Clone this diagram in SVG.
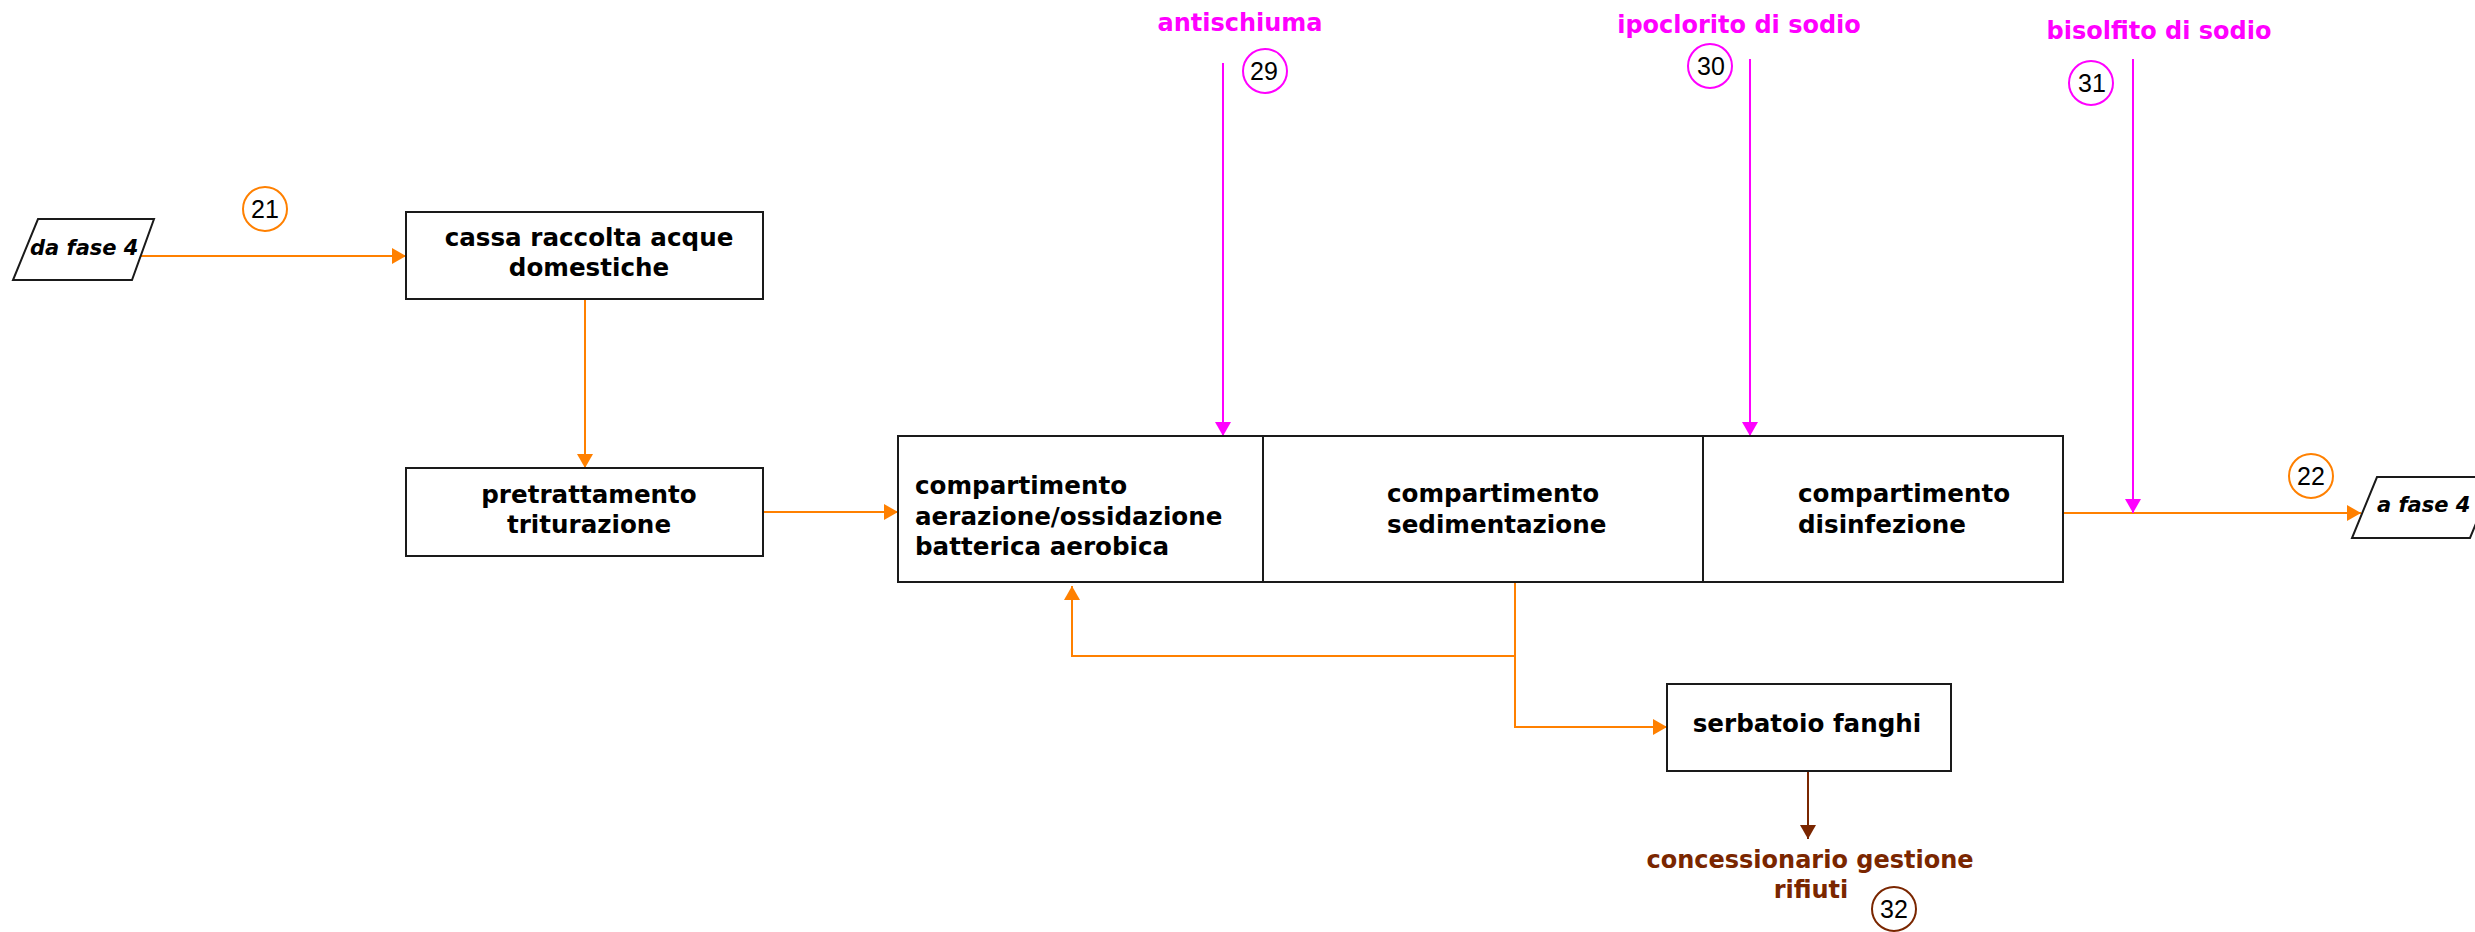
<svg xmlns="http://www.w3.org/2000/svg" width="2475" height="932" viewBox="0 0 2475 932">
  <style>
    .box { fill: #ffffff; stroke: #1a1a1a; stroke-width: 2; }
    .lbl { font-family: "DejaVu Sans", Verdana, sans-serif; font-weight: bold; font-size: 24.6px; fill: #000000; }
    .io { font-family: "DejaVu Sans", Verdana, sans-serif; font-weight: bold; font-style: italic; font-size: 21px; fill: #000000; }
    .chem { font-family: "DejaVu Sans", Verdana, sans-serif; font-weight: bold; font-size: 24px; fill: #ff00ff; }
    .waste { font-family: "DejaVu Sans", Verdana, sans-serif; font-weight: bold; font-size: 24px; fill: #7a2600; }
    .num { font-family: "Liberation Sans", Arial, sans-serif; font-size: 25px; fill: #000000; text-anchor: middle; }
    .tag { fill: #ffffff; stroke-width: 2; }
    .flow { fill: none; stroke: #ff8000; stroke-width: 2; }
    .dose { fill: none; stroke: #ff00ff; stroke-width: 2; }
    .out { fill: none; stroke: #7a2600; stroke-width: 2; }
  </style>
  <defs>
    <marker id="arrOrange" viewBox="0 0 14 16" refX="14" refY="8" markerWidth="14" markerHeight="16" markerUnits="userSpaceOnUse" orient="auto">
      <path d="M0,0 L14,8 L0,16 z" fill="#ff8000"/>
    </marker>
    <marker id="arrMagenta" viewBox="0 0 14 16" refX="14" refY="8" markerWidth="14" markerHeight="16" markerUnits="userSpaceOnUse" orient="auto">
      <path d="M0,0 L14,8 L0,16 z" fill="#ff00ff"/>
    </marker>
    <marker id="arrBrown" viewBox="0 0 14 16" refX="14" refY="8" markerWidth="14" markerHeight="16" markerUnits="userSpaceOnUse" orient="auto">
      <path d="M0,0 L14,8 L0,16 z" fill="#7a2600"/>
    </marker>
  </defs>

  <rect width="2475" height="932" fill="#ffffff"/>

  <!-- connectors -->
  <g id="connectors">
    <line class="flow" x1="141" y1="256" x2="406" y2="256" marker-end="url(#arrOrange)"/>
    <line class="flow" x1="585" y1="299" x2="585" y2="468" marker-end="url(#arrOrange)"/>
    <line class="flow" x1="763" y1="512" x2="898" y2="512" marker-end="url(#arrOrange)"/>
    <line class="flow" x1="2063" y1="513" x2="2361" y2="513" marker-end="url(#arrOrange)"/>
    <polyline class="flow" points="1515,582 1515,727 1667,727" marker-end="url(#arrOrange)"/>
    <polyline class="flow" points="1515,656 1072,656 1072,586" marker-end="url(#arrOrange)"/>
    <line class="dose" x1="1223" y1="63" x2="1223" y2="436" marker-end="url(#arrMagenta)"/>
    <line class="dose" x1="1750" y1="59" x2="1750" y2="436" marker-end="url(#arrMagenta)"/>
    <line class="dose" x1="2133" y1="59" x2="2133" y2="513" marker-end="url(#arrMagenta)"/>
    <line class="out" x1="1808" y1="771" x2="1808" y2="839" marker-end="url(#arrBrown)"/>
  </g>

  <!-- inlet / outlet terminals -->
  <g id="from-phase4">
    <polygon class="box" points="38,219 154,219 132,280 13,280"/>
    <text class="io" x="30" y="255">da fase 4</text>
  </g>
  <g id="to-phase4">
    <polygon class="box" points="2377,477 2495,477 2470,538 2352,538"/>
    <text class="io" x="2377" y="512">a fase 4</text>
  </g>

  <!-- process units -->
  <g id="collection-tank">
    <rect class="box" x="406" y="212" width="357" height="87"/>
    <text class="lbl" text-anchor="middle" x="589" y="246">cassa raccolta acque</text>
    <text class="lbl" text-anchor="middle" x="589" y="276">domestiche</text>
  </g>
  <g id="pretreatment">
    <rect class="box" x="406" y="468" width="357" height="88"/>
    <text class="lbl" text-anchor="middle" x="589" y="503">pretrattamento</text>
    <text class="lbl" text-anchor="middle" x="589" y="533">triturazione</text>
  </g>
  <g id="aeration">
    <rect class="box" x="898" y="436" width="365" height="146"/>
    <text class="lbl" x="915" y="494">compartimento</text>
    <text class="lbl" x="915" y="525">aerazione/ossidazione</text>
    <text class="lbl" x="915" y="555">batterica aerobica</text>
  </g>
  <g id="sedimentation">
    <rect class="box" x="1263" y="436" width="440" height="146"/>
    <text class="lbl" x="1387" y="502">compartimento</text>
    <text class="lbl" x="1387" y="533">sedimentazione</text>
  </g>
  <g id="disinfection">
    <rect class="box" x="1703" y="436" width="360" height="146"/>
    <text class="lbl" x="1798" y="502">compartimento</text>
    <text class="lbl" x="1798" y="533">disinfezione</text>
  </g>
  <g id="sludge-tank">
    <rect class="box" x="1667" y="684" width="284" height="87"/>
    <text class="lbl" text-anchor="middle" x="1807" y="732">serbatoio fanghi</text>
  </g>

  <!-- reagents -->
  <g id="antifoam">
    <text class="chem" text-anchor="middle" x="1240" y="31">antischiuma</text>
  </g>
  <g id="hypochlorite">
    <text class="chem" text-anchor="middle" x="1739" y="33">ipoclorito di sodio</text>
  </g>
  <g id="bisulfite">
    <text class="chem" text-anchor="middle" x="2159" y="39">bisolfito di sodio</text>
  </g>
  <g id="waste-contractor">
    <text class="waste" text-anchor="middle" x="1810" y="868">concessionario gestione</text>
    <text class="waste" text-anchor="middle" x="1811" y="898">rifiuti</text>
  </g>

  <!-- stream tags -->
  <g id="tag-21">
    <circle class="tag" cx="265" cy="209" r="22" stroke="#ff8000"/>
    <text class="num" x="265" y="218">21</text>
  </g>
  <g id="tag-22">
    <circle class="tag" cx="2311" cy="476" r="22" stroke="#ff8000"/>
    <text class="num" x="2311" y="485">22</text>
  </g>
  <g id="tag-29">
    <circle class="tag" cx="1265" cy="71" r="22" stroke="#ff00ff"/>
    <text class="num" x="1264" y="80">29</text>
  </g>
  <g id="tag-30">
    <circle class="tag" cx="1710" cy="66" r="22" stroke="#ff00ff"/>
    <text class="num" x="1711" y="75">30</text>
  </g>
  <g id="tag-31">
    <circle class="tag" cx="2091" cy="83" r="22" stroke="#ff00ff"/>
    <text class="num" x="2092" y="92">31</text>
  </g>
  <g id="tag-32">
    <circle class="tag" cx="1894" cy="909" r="22" stroke="#7a2600"/>
    <text class="num" x="1894" y="918">32</text>
  </g>
</svg>
